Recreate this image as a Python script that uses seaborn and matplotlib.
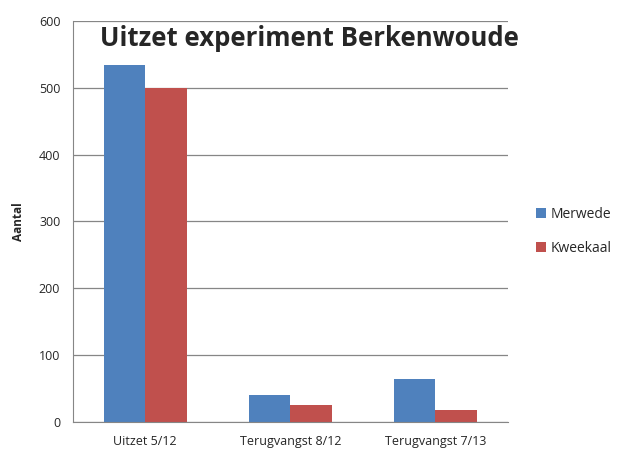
import matplotlib.pyplot as plt
import pandas as pd
import seaborn as sns

categories = ["Uitzet 5/12", "Terugvangst 8/12", "Terugvangst 7/13"]
merwede = [534, 40, 64]
kweekaal = [500, 26, 18]
series = ["Merwede", "Kweekaal"]
colors = ["#4F81BD", "#C0504D"]

df = pd.DataFrame({
    "categorie": categories * 2,
    "aantal": merwede + kweekaal,
    "serie": [series[0]] * 3 + [series[1]] * 3,
})

sns.set_style("white")
plt.rcParams["font.family"] = ["Open Sans", "DejaVu Sans"]

fig = plt.figure(figsize=(6.17, 4.55), dpi=100)
ax = fig.add_axes([0.118, 0.0725, 0.705, 0.8815])

sns.barplot(data=df, x="categorie", y="aantal", hue="serie", palette=colors,
            width=0.57, gap=0, saturation=1, linewidth=0, ax=ax, legend=True)

ax.set_ylim(0, 600)
ax.set_xlim(-0.5, 2.5)
ax.set_yticks(range(0, 601, 100))
ax.yaxis.grid(True, color="#868686", linewidth=0.9)
ax.set_axisbelow(True)
for side in ["top", "right"]:
    ax.spines[side].set_visible(False)
ax.spines["left"].set_color("#868686")
ax.spines["bottom"].set_color("#868686")
ax.tick_params(axis="y", length=5, color="#868686", labelsize=9, pad=4)
ax.tick_params(axis="x", length=0, labelsize=9, pad=9)
ax.set_xticks([-0.5, 0.5, 1.5, 2.5], minor=True)
ax.tick_params(axis="x", which="minor", length=5, color="#868686")
ax.set_xlabel("")
ax.set_ylabel("Aantal", fontsize=8.5, fontweight="bold", labelpad=10)

ax.legend(loc="center left", bbox_to_anchor=(1.035, 0.475), frameon=False,
          fontsize=10, handlelength=0.75, handleheight=0.75, labelspacing=1.4,
          handletextpad=0.35)

fig.text(0.162, 0.916, "Uitzet experiment Berkenwoude", fontsize=18.5,
         fontweight="bold", va="center", ha="left")

fig.savefig("out.png", dpi=100)
